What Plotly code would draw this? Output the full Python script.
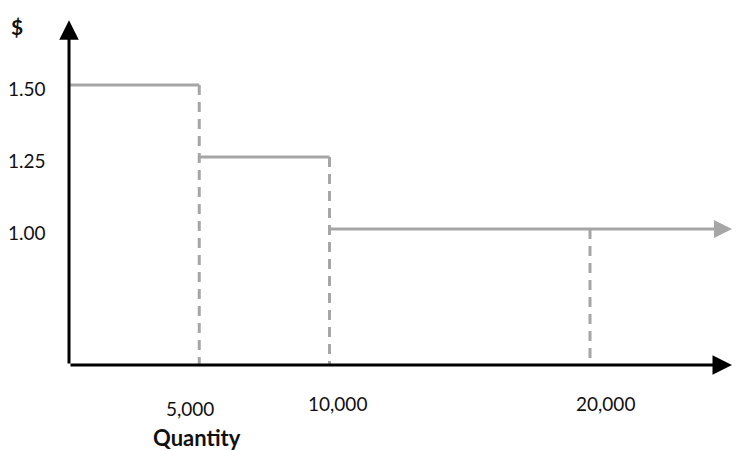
import plotly.graph_objects as go

# ---- data ----
quantity_breaks = [0, 5000, 10000, 20000]
price_levels = [1.50, 1.25, 1.00]
x_tick_labels = ["5,000", "10,000", "20,000"]
y_tick_labels = ["1.50", "1.25", "1.00"]
x_axis_title = "Quantity"
y_axis_title = "$"

GRAY = "#a6a6a6"
FONT = "Lato"
W, H = 734, 442  # page body adds an 8px margin

x_min, x_max = -2342, 25835
y_min, y_max = 0.2326, 1.7674
axis_y = 0.5278
x_end = 25450


def py(p):
    """reference pixel row -> paper y"""
    return 1 - (p - 8) / H


fig = go.Figure()

# solid horizontal steps (first two)
hx, hy = [], []
for i in range(2):
    hx += [quantity_breaks[i], quantity_breaks[i + 1], None]
    hy += [price_levels[i], price_levels[i], None]
fig.add_trace(go.Scatter(x=hx, y=hy, mode="lines",
                         line=dict(color=GRAY, width=3), hoverinfo="skip"))

# dashed verticals
vx, vy = [], []
for q, p in zip(quantity_breaks[1:], price_levels):
    vx += [q, q, None]
    vy += [p, axis_y, None]
fig.add_trace(go.Scatter(x=vx, y=vy, mode="lines",
                         line=dict(color=GRAY, width=3, dash="10px,7px"), hoverinfo="skip"))

annotations = []
# last step with arrow
annotations.append(dict(x=x_end, y=price_levels[2], ax=quantity_breaks[2], ay=price_levels[2],
                        xref="x", yref="y", axref="x", ayref="y", showarrow=True,
                        arrowhead=2, arrowsize=1.2, arrowwidth=3, arrowcolor=GRAY, text=""))
# x axis arrow
annotations.append(dict(x=x_end, y=axis_y, ax=quantity_breaks[0], ay=axis_y,
                        xref="x", yref="y", axref="x", ayref="y", showarrow=True,
                        arrowhead=2, arrowsize=1.3, arrowwidth=3, arrowcolor="black", text=""))
# y axis arrow
annotations.append(dict(x=quantity_breaks[0], y=1.725, ax=quantity_breaks[0], ay=axis_y,
                        xref="x", yref="y", axref="x", ayref="y", showarrow=True,
                        arrowhead=2, arrowsize=1.3, arrowwidth=3, arrowcolor="black", text=""))

# y tick labels
for lab, p in zip(y_tick_labels, price_levels):
    annotations.append(dict(x=0, y=p, xref="paper", yref="y", text=lab, showarrow=False,
                            xanchor="left", yanchor="middle", yshift=-3, xshift=-2,
                            font=dict(family=FONT, size=19, color="#111")))
# x tick labels
x_shifts = [-9, 8, 15]
y_pos = [408, 403, 403]
for lab, q, xs, yp in zip(x_tick_labels, quantity_breaks[1:], x_shifts, y_pos):
    annotations.append(dict(x=q, y=py(yp), xref="x", yref="paper", text=lab, showarrow=False,
                            yanchor="middle", xshift=xs,
                            font=dict(family=FONT, size=19, color="#111")))
annotations.append(dict(x=quantity_breaks[1], y=py(437), xref="x", yref="paper",
                        text="<b>" + x_axis_title + "</b>", showarrow=False, xshift=-2,
                        yanchor="middle", font=dict(family=FONT, size=22, color="#111")))
annotations.append(dict(x=0, y=py(27), xref="paper", yref="paper",
                        text="<b>" + y_axis_title + "</b>", showarrow=False, xanchor="left", xshift=1,
                        yanchor="middle", font=dict(family=FONT, size=21, color="#111")))

fig.update_layout(
    width=W, height=H,
    margin=dict(l=0, r=0, t=0, b=0),
    paper_bgcolor="white", plot_bgcolor="white",
    showlegend=False,
    xaxis=dict(range=[x_min, x_max], visible=False, fixedrange=True),
    yaxis=dict(range=[y_min, y_max], visible=False, fixedrange=True),
    annotations=annotations,
)

fig.write_html("out.html")
